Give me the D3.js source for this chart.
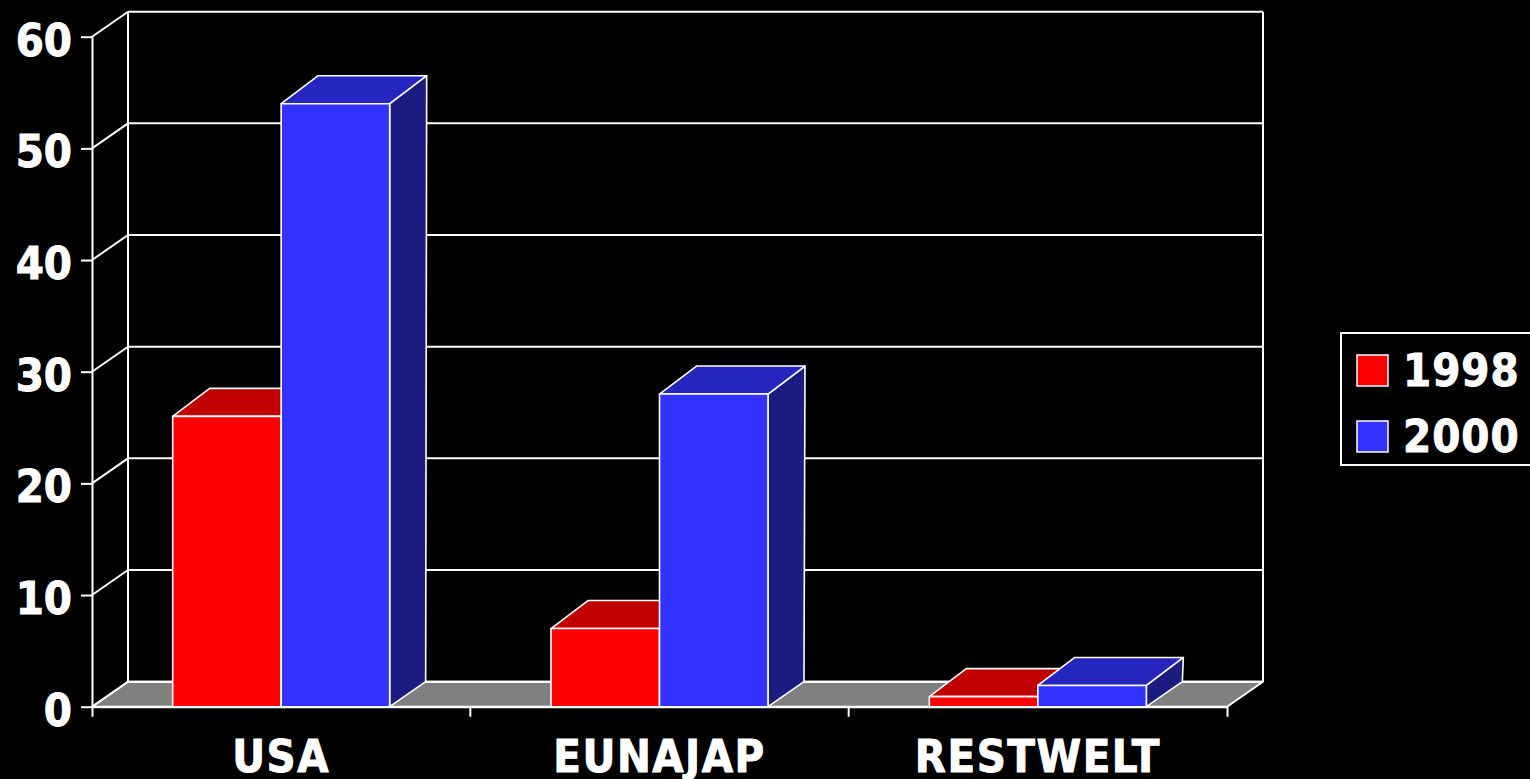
<!DOCTYPE html>
<html>
<head>
<meta charset="utf-8">
<script src="https://cdn.jsdelivr.net/npm/d3@7"></script>
<style>
  html, body { margin: 0; padding: 0; background: #000; }
  svg { display: block; }
  text { font-family: "DejaVu Sans Condensed", "DejaVu Sans", sans-serif; font-weight: bold; font-stretch: condensed; fill: #fff; stroke: #fff; stroke-width: 0.9px; }
</style>
</head>
<body>
<svg id="chart" width="1530" height="779"></svg>
<script>
// Data
const categories = ["USA", "EUNAJAP", "RESTWELT"];
const seriesNames = ["1998", "2000"];
const values1998 = [26, 7, 0.9];
const values2000 = [54, 28, 1.9];
const yTicks = [0, 10, 20, 30, 40, 50, 60];
const seriesColors = [
  { front: "#FF0000", top: "#C00000", side: "#800000" },
  { front: "#3333FF", top: "#2626BF", side: "#1C1C80" }
];
const seriesValues = [values1998, values2000];

// Layout of the 3-D box
const left = 92, right = 1227, bottom = 706.7, topY = 36.7;
const wallDX = 36, wallDY = -25;        // offset of back wall from front plane
const barTopDX = 37, barTopDY = -28;    // depth of the bar tops
const barBotDX = 36, barBotDY = -25;    // depth of the bar bases

const svg = d3.select("#chart");
const line = "#ffffff";

const y = d3.scaleLinear().domain([0, 60]).range([bottom, topY]);
const x = d3.scaleBand().domain(categories).range([left, right]);
const xs = d3.scaleBand().domain(seriesNames).range([0, x.bandwidth()])
  .paddingInner(0).paddingOuter(0.7435);

const walls = svg.append("g");

// Floor
walls.append("polygon")
  .attr("points", [[left, bottom], [right, bottom], [right + wallDX, bottom + wallDY], [left + wallDX, bottom + wallDY]].join(" "))
  .attr("fill", "#808080").attr("stroke", line).attr("stroke-width", 2).attr("stroke-linejoin", "round");

// Back-wall gridlines and side-wall diagonals
yTicks.forEach(t => {
  const yf = y(t), yb = y(t) + wallDY;
  walls.append("line").attr("x1", left + wallDX).attr("x2", right + wallDX)
    .attr("y1", yb).attr("y2", yb).attr("stroke", line).attr("stroke-width", 2);
  walls.append("line").attr("x1", left).attr("x2", left + wallDX)
    .attr("y1", yf).attr("y2", yb).attr("stroke", line).attr("stroke-width", 2);
});
// Back-wall verticals
[left + wallDX, right + wallDX].forEach(xx => {
  walls.append("line").attr("x1", xx).attr("x2", xx)
    .attr("y1", y(60) + wallDY).attr("y2", y(0) + wallDY)
    .attr("stroke", line).attr("stroke-width", 2);
});

// Y axis on the front plane
const yAxis = svg.append("g").attr("transform", `translate(${left},0)`)
  .call(d3.axisLeft(y).tickValues(yTicks).tickSize(11).tickSizeOuter(0).tickPadding(9));
yAxis.select(".domain").attr("stroke", line).attr("stroke-width", 2);
yAxis.selectAll(".tick line").attr("stroke", line).attr("stroke-width", 2);
yAxis.selectAll(".tick text").attr("font-size", 45).attr("dy", "0.41em")
  .attr("fill", "#fff").attr("font-family", null);

// X axis along the front floor edge
const xAxis = svg.append("g").attr("transform", `translate(0,${bottom})`)
  .call(d3.axisBottom(x).tickSize(0).tickSizeOuter(10).tickFormat(""));
xAxis.select(".domain").attr("stroke", line).attr("stroke-width", 2);
xAxis.selectAll(".tick").remove();
categories.slice(1).forEach(c => {
  xAxis.append("line").attr("x1", x(c)).attr("x2", x(c)).attr("y1", 0).attr("y2", 10)
    .attr("stroke", line).attr("stroke-width", 2);
});
svg.append("g").selectAll("text").data(categories).join("text")
  .attr("x", c => x(c) + x.bandwidth() / 2).attr("y", 772)
  .attr("text-anchor", "middle").attr("font-size", 45).attr("letter-spacing", 1.5)
  .text(c => c);

// 3-D columns
const bars = svg.append("g");
categories.forEach((c, ci) => {
  seriesNames.forEach((s, si) => {
    const v = seriesValues[si][ci];
    const col = seriesColors[si];
    const x0 = x(c) + xs(s), x1 = x0 + xs.bandwidth();
    const yt = y(v), yb = y(0);
    const g = bars.append("g").attr("stroke", line).attr("stroke-width", 1.6).attr("stroke-linejoin", "round");
    // right side face
    g.append("polygon").attr("fill", col.side)
      .attr("points", [[x1, yb], [x1, yt], [x1 + barTopDX, yt + barTopDY], [x1 + barBotDX, yb + barBotDY]].join(" "));
    // top face
    g.append("polygon").attr("fill", col.top)
      .attr("points", [[x0, yt], [x1, yt], [x1 + barTopDX, yt + barTopDY], [x0 + barTopDX, yt + barTopDY]].join(" "));
    // front face
    g.append("rect").attr("fill", col.front)
      .attr("x", x0).attr("y", yt).attr("width", x1 - x0).attr("height", yb - yt);
  });
});

// Legend
const legend = svg.append("g");
legend.append("rect").attr("x", 1341).attr("y", 333).attr("width", 200).attr("height", 132)
  .attr("fill", "#000").attr("stroke", line).attr("stroke-width", 2);
seriesNames.forEach((s, i) => {
  const ly = 355 + i * 66;
  legend.append("rect").attr("x", 1357).attr("y", ly).attr("width", 31).attr("height", 31)
    .attr("fill", seriesColors[i].front).attr("stroke", line).attr("stroke-width", 1.5);
  legend.append("text").attr("x", 1403).attr("y", ly + 31).attr("font-size", 45)
    .attr("letter-spacing", 1).text(s);
});
</script>
</body>
</html>
